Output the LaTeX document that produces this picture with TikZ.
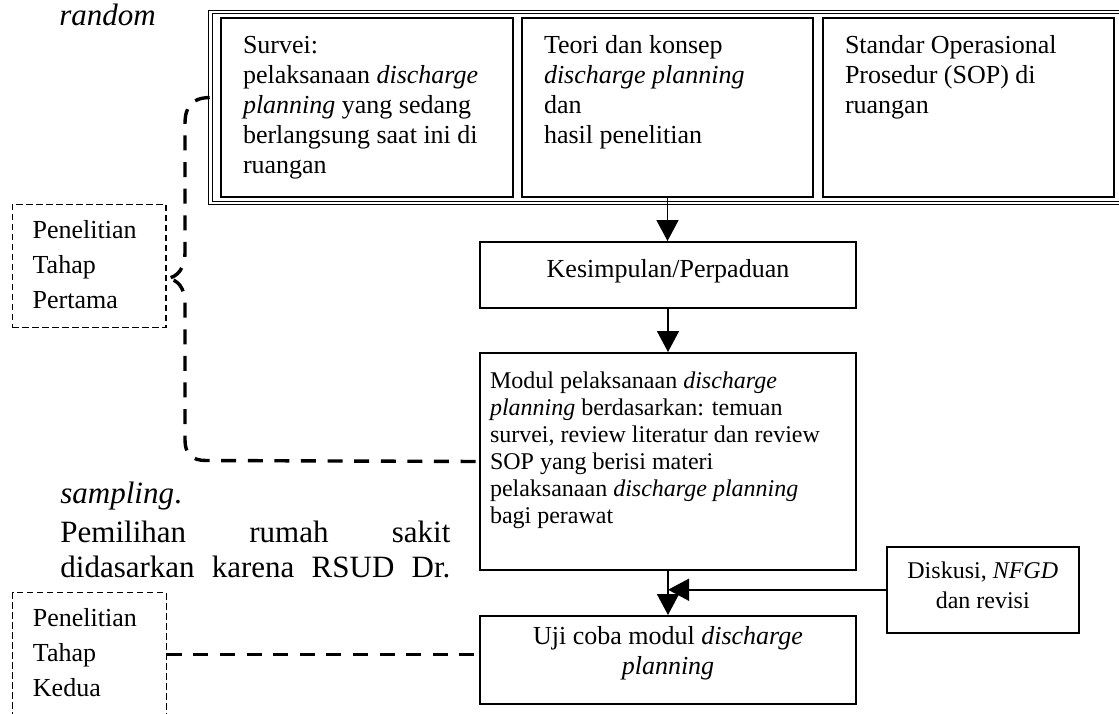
\documentclass[tikz,border=0pt]{standalone}
\usepackage{fontspec}
\setmainfont{Liberation Serif}
\usetikzlibrary{arrows.meta}
\newcommand{\fsz}[2]{\fontsize{#1}{#2}\selectfont}
\newcommand{\cellbox}[3]{\parbox[t][#2][t]{#1}{#3}}
\tikzset{stage/.style={draw, line width=1pt, anchor=north west, inner xsep=11pt, inner ysep=7.25pt, font=\fsz{13}{15}},
 frame/.style={draw, double, line width=0.5pt, double distance=1.3pt, anchor=north west, inner sep=0pt, minimum width=457pt, minimum height=95.5pt},
 note/.style={draw, line width=0.65pt, dash pattern=on 3.25pt off 1.75pt, anchor=north west, inner xsep=10.15pt, inner ysep=4.75pt, font=\fsz{13}{17.5}},
 arr/.style={line width=0.75pt, -{Triangle[length=10.5pt,width=11pt]}},
 link/.style={line width=1.7pt, dash pattern=on 7.5pt off 5.8pt},
 body/.style={anchor=base west, inner sep=0pt, font=\fsz{15.5}{17.5}},
 }

\begin{document}
\begin{tikzpicture}[x=1pt, y=-1pt]
        \useasboundingbox (0,0) rectangle (559.5,356.5);
        \node[body] (random) at (29.5,12.5) {\textit{random}};
        \node[body] (sampling) at (30,251.5) {\textit{sampling}.};
        \node[body] (pemilihan) at (30,271) {\hbox to 195pt{Pemilihan\hfill rumah\hfill sakit}};
        \node[body] (didasarkan) at (30,288.5) {\hbox to 195pt{didasarkan\hfill karena\hfill RSUD\hfill Dr.}};
        \node[frame] (frame) at (104.85,5.65) {};
        \node[stage] (survei) at (110,8.25) {\cellbox{124pt}{75pt}{\raggedright\strut Survei:\\
            pelaksanaan \textit{discharge}\\ \textit{planning} yang sedang\\ berlangsung saat ini di\\ ruangan}};
        \node[stage] (teori) at (260.5,8.25) {\cellbox{123.5pt}{75pt}{\raggedright\strut Teori dan konsep\\
            \textit{discharge planning}\\ dan\\ hasil penelitian}};
        \node[stage] (sop) at (411,8.25) {\cellbox{123.5pt}{75pt}{\raggedright\strut Standar Operasional\\
            Prosedur (SOP) di\\ ruangan}};
        \node[stage] (kesimpulan) at (239.5,120.5) {\cellbox{166pt}{18.5pt}{\centering\strut Kesimpulan/Perpaduan}};
        \node[stage, font=\fsz{12}{13.5}, inner xsep=5pt, inner ysep=8.05pt] (modul) at (239.5,176)
            {\cellbox{178pt}{92.4pt}{\raggedright\strut Modul pelaksanaan \textit{discharge}\\
            \textit{planning} berdasarkan: temuan\\ survei, review literatur dan review\\ SOP yang berisi materi\\
            pelaksanaan \textit{discharge planning}\\ bagi perawat}};
        \node[stage, inner ysep=3.5pt] (uji) at (239.5,307.5) {\cellbox{166pt}{37pt}{\centering\strut Uji coba modul \textit{discharge}\\ \textit{planning}}};
        \node[stage, line width=0.75pt, font=\fsz{12}{15}, inner xsep=5pt, inner ysep=5.5pt] (diskusi) at (443,273)
            {\cellbox{86pt}{32pt}{\centering\strut Diskusi, \textit{NFGD}\\ dan revisi}};
        \node[note] (tahap1) at (5.85,101.75) {\cellbox{56.45pt}{52.25pt}{\raggedright\strut Penelitian\\ Tahap\\ Pertama}};
        \node[note] (tahap2) at (6,296) {\cellbox{56.45pt}{52.25pt}{\raggedright\strut Penelitian\\ Tahap\\ Kedua}};
        \draw[arr] (teori.south) -- (teori.south |- kesimpulan.north);
        \draw[arr] (kesimpulan.south) -- (modul.north);
        \draw[arr] (modul.south) -- (uji.north);
        \draw[arr] (diskusi.west) -- (diskusi.west -| modul.south);
        \draw[link] ([yshift=4.9pt]frame.west) .. controls (96,49) and (92.5,53) .. (92.5,62) -- (92.5,126)
            .. controls (92.5,134) and (89,138.5) .. ([yshift=-6.4pt]tahap1.east)
            .. controls (89,139.5) and (92.5,144) .. (92.5,152) -- (92.5,220)
            .. controls (92.5,227) and (96,230.25) .. (103,230.25) -- (modul.west);
        \draw[link] (tahap2.east) -- (tahap2.east -| uji.west);
\end{tikzpicture}
\end{document}
